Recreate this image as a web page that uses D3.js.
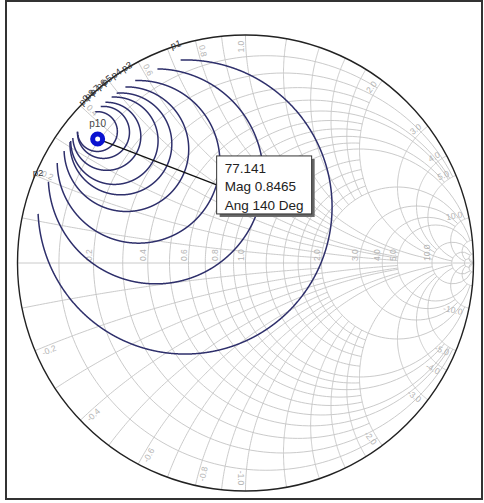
<!DOCTYPE html>
<html><head><meta charset="utf-8">
<script src="https://cdn.jsdelivr.net/npm/d3@7"></script>
<style>html,body{margin:0;padding:0;background:#fff;}svg{display:block;font-family:"Liberation Sans",Arial,sans-serif;}</style>
</head><body>
<svg id="chart" width="484" height="503"></svg>
<script>
// Smith chart grid: value v gives a resistance circle r=v drawn for |x| <= limit,
// and reactance arcs x=+/-v drawn for r <= limit.
const gridValues = [0.1, 0.2, 0.3, 0.4, 0.5, 0.6, 0.7, 0.8, 0.9, 1.0, 1.2, 1.4, 1.6, 1.8, 2.0, 3.0, 4.0, 5.0, 10, 20, 50];
const gridLimits = [2, 5, 2, 5, 5, 2, 2, 5, 2, 10, 2, 2, 2, 2, 20, 10, 10, 20, 50, 50, Infinity];
const axisLabels = ["0.2", "0.4", "0.6", "0.8", "1.0", "2.0", "3.0", "4.0", "5.0", "10.0"];
const rimLabels = ["0.2", "0.4", "0.6", "0.8", "1.0", "2.0", "3.0", "4.0", "5.0", "10.0"];

// Contour circles in the reflection plane: centre magnitude, centre angle (deg), radius.
const contourNames = ["p1", "p2", "p3", "p4", "p5", "p6", "p7", "p8", "p9"];
const contourCenterMag = [0.3616, 0.547, 0.6457, 0.7225, 0.7559, 0.7863, 0.8238, 0.8463, 0.8683];
const contourCenterAng = [137.2, 136.0, 136.6, 136.3, 136.3, 137.0, 137.6, 137.4, 138.4];
const contourRadius = [0.645, 0.4715, 0.3566, 0.2733, 0.2233, 0.1916, 0.1492, 0.1141, 0.0873];
const contourLabelEnd = ["top", "left", "top", "top", "top", "top", "top", "top", "top"];
const contourClip = 0.935;

// Marker readout
const markerName = "p10";
const markerValue = "77.141";
const markerMag = 0.8465;
const markerAng = 140;

const svg = d3.select("#chart");
const W = 484, H = 503;
const cx = 245.5, cy = 263, R = 228;
const gx = d3.scaleLinear().domain([-1, 1]).range([cx - R, cx + R]);
const gy = d3.scaleLinear().domain([-1, 1]).range([cy + R, cy - R]);
const line = d3.line().x(d => gx(d[0])).y(d => gy(d[1]));

function gamma(r, x) {
  const den = (r + 1) * (r + 1) + x * x;
  return [(r * r + x * x - 1) / den, (2 * x) / den];
}

// frame
svg.append("rect").attr("x", 6).attr("y", 1).attr("width", W - 8).attr("height", H - 5)
  .attr("fill", "#fff").attr("stroke", "#333").attr("stroke-width", 2);

const grid = svg.append("g").attr("fill", "none").attr("stroke", "#c4c4c4").attr("stroke-width", 0.9);
const N = 160;
gridValues.forEach((v, i) => {
  const L = gridLimits[i];
  const tMax = Math.atan(L);
  // resistance circle
  const rPts = d3.range(N + 1).map(k => gamma(v, Math.tan(-tMax + 2 * tMax * k / N)));
  grid.append("path").attr("d", line(rPts));
  // reactance arcs
  [1, -1].forEach(s => {
    const xPts = d3.range(N + 1).map(k => gamma(Math.tan(tMax * k / N), s * v));
    grid.append("path").attr("d", line(xPts));
  });
});
// real axis
grid.append("path").attr("d", line([[-1, 0], [1, 0]]));

// axis labels
const lab = svg.append("g").attr("fill", "#b4b4b4").attr("font-size", 8.5);
axisLabels.forEach(t => {
  const v = +t;
  const px = gx((v - 1) / (v + 1)) - 2;
  lab.append("text").attr("transform", `translate(${px},${cy - 2}) rotate(-90)`).text(t);
});
rimLabels.forEach(t => {
  const v = +t;
  [1, -1].forEach(s => {
    const g = gamma(0, s * v);
    const th = Math.atan2(g[1], g[0]);
    const rr = 0.975;
    const px = gx(rr * Math.cos(th)), py = gy(rr * Math.sin(th));
    let rot = -th * 180 / Math.PI;
    let anchor = "end";
    if (Math.cos(th) < -0.01) { rot += 180; anchor = "start"; }
    lab.append("text").attr("transform", `translate(${px},${py}) rotate(${rot})`)
      .attr("text-anchor", anchor).attr("dy", s > 0 ? -2 : 8).text((s < 0 ? "-" : "") + t);
  });
});

// outer rim
svg.append("circle").attr("cx", gx(0)).attr("cy", gy(0)).attr("r", gx(1) - gx(0))
  .attr("fill", "none").attr("stroke", "#222").attr("stroke-width", 1.4);

// contours clipped to |Γ| <= contourClip
const cg = svg.append("g");
contourNames.forEach((name, i) => {
  const a = contourCenterAng[i] * Math.PI / 180;
  const c0 = [contourCenterMag[i] * Math.cos(a), contourCenterMag[i] * Math.sin(a)];
  const rho = contourRadius[i];
  const M = 2880;
  const pts = d3.range(M).map(k => {
    const p = a + 2 * Math.PI * k / M;
    return [c0[0] + rho * Math.cos(p), c0[1] + rho * Math.sin(p)];
  });
  // walk from the outermost point; keep the run that lies inside the clip radius
  let run = [];
  for (let k = 0; k < M; k++) {
    const p = pts[k];
    if (Math.hypot(p[0], p[1]) <= contourClip) run.push(p);
    else if (run.length) break;
  }
  cg.append("path").attr("d", line(run)).attr("fill", "none")
    .attr("stroke", "#2e2f6b").attr("stroke-width", 1.5);
  // label on the rim next to the chosen end of the arc
  const end = contourLabelEnd[i] === "top" ? run[run.length - 1] : run[0];
  const th = Math.atan2(end[1], end[0]);
  const lr = 1.005;
  const lx = gx(lr * Math.cos(th)), ly = gy(lr * Math.sin(th));
  if (contourLabelEnd[i] === "top") {
    const rot = 90 - th * 180 / Math.PI;
    cg.append("text").attr("transform", `translate(${lx},${ly}) rotate(${rot})`)
      .attr("text-anchor", "middle").attr("dy", 3).attr("font-size", 9.5).attr("fill", "#333").text(name);
  } else {
    cg.append("text").attr("x", lx - 1).attr("y", ly)
      .attr("text-anchor", "start").attr("font-size", 9.5).attr("fill", "#333").text(name);
  }
});

// marker
const ma = markerAng * Math.PI / 180;
const mx = gx(markerMag * Math.cos(ma)), my = gy(markerMag * Math.sin(ma));
const bx = mx + 119, by = my + 17;
svg.append("line").attr("x1", mx).attr("y1", my).attr("x2", bx).attr("y2", by + 29)
  .attr("stroke", "#111").attr("stroke-width", 1.3);
svg.append("circle").attr("cx", mx).attr("cy", my).attr("r", 5).attr("fill", "#fff")
  .attr("stroke", "#0a12d0").attr("stroke-width", 5);
svg.append("text").attr("x", mx).attr("y", my - 12).attr("text-anchor", "middle")
  .attr("font-size", 10).attr("fill", "#444").text(markerName);

// readout box
svg.append("rect").attr("x", bx + 3).attr("y", by + 3).attr("width", 95).attr("height", 58).attr("fill", "#666");
svg.append("rect").attr("x", bx).attr("y", by).attr("width", 95).attr("height", 58)
  .attr("fill", "#fff").attr("stroke", "#333").attr("stroke-width", 1);
const lines = [markerValue, "Mag " + markerMag, "Ang " + markerAng + " Deg"];
lines.forEach((t, i) => {
  svg.append("text").attr("x", bx + 8).attr("y", by + 17 + i * 18.5)
    .attr("font-size", 13.5).attr("fill", "#222").text(t);
});
</script>
</body></html>
